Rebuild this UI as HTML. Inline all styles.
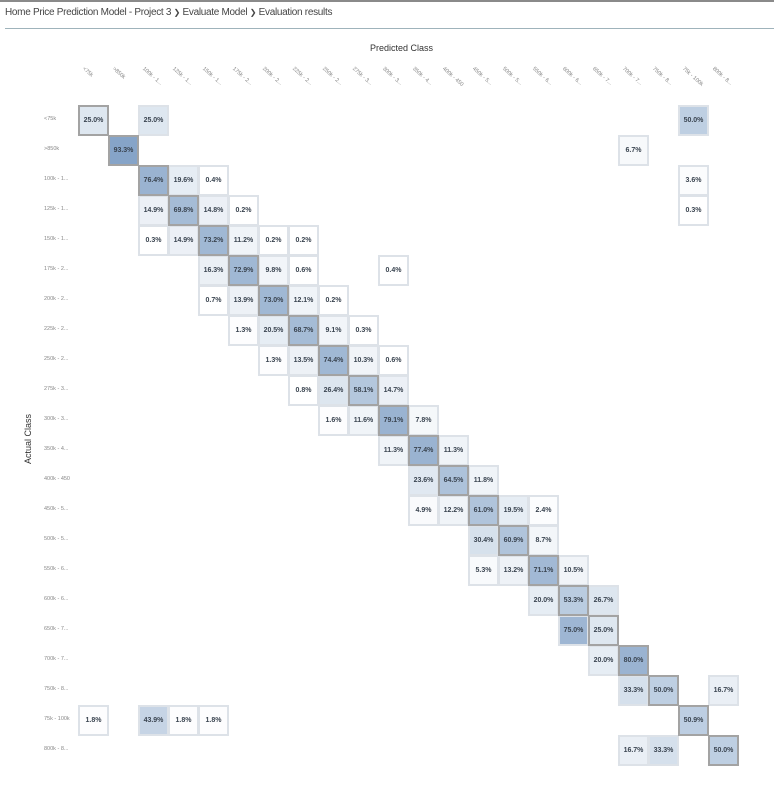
<!DOCTYPE html>
<html><head><meta charset="utf-8"><style>
*{margin:0;padding:0;box-sizing:border-box}
body{width:774px;height:791px;background:#fff;position:relative;overflow:hidden;font-family:"Liberation Sans",sans-serif}
.top{position:absolute;left:0;top:0;width:774px;height:2px;background:#8a8a8a}
.crumb{position:absolute;left:5px;top:7px;font-size:10px;color:#444;letter-spacing:-0.3px}
.hr{position:absolute;left:5px;top:28px;width:769px;height:1px;background:#9fb3bb}
.pc{position:absolute;left:370px;top:43px;font-size:9px;color:#333}
.ac{position:absolute;left:-2px;top:434px;font-size:9px;color:#333;transform:rotate(-90deg);transform-origin:center;width:60px;text-align:center;white-space:nowrap}
.cl{position:absolute;top:66px;font-size:5.5px;color:#888;transform:rotate(42deg);transform-origin:0 0;white-space:nowrap}
.rl{position:absolute;left:44px;font-size:5.5px;color:#888;white-space:nowrap}
.c{position:absolute;width:31px;height:31px;border:2px solid #dde2e8;font-size:7px;font-weight:bold;color:#3a4450;text-align:center;line-height:27px}
.d{border-color:#a3a3a3;z-index:2}
</style></head><body>
<div class="top"></div>
<div class="crumb">Home Price Prediction Model - Project 3 <span style="font-size:8px">&#x276F;</span> Evaluate Model <span style="font-size:8px">&#x276F;</span> Evaluation results</div>
<div class="hr"></div>
<div class="pc">Predicted Class</div>
<div class="ac">Actual Class</div>

<div class="cl" style="left:85px">&lt;75k</div>
<div class="cl" style="left:115px">&gt;850k</div>
<div class="cl" style="left:145px">100k - 1...</div>
<div class="cl" style="left:175px">125k - 1...</div>
<div class="cl" style="left:205px">150k - 1...</div>
<div class="cl" style="left:235px">175k - 2...</div>
<div class="cl" style="left:265px">200k - 2...</div>
<div class="cl" style="left:295px">225k - 2...</div>
<div class="cl" style="left:325px">250k - 2...</div>
<div class="cl" style="left:355px">275k - 3...</div>
<div class="cl" style="left:385px">300k - 3...</div>
<div class="cl" style="left:415px">350k - 4...</div>
<div class="cl" style="left:445px">400k - 450</div>
<div class="cl" style="left:475px">450k - 5...</div>
<div class="cl" style="left:505px">500k - 5...</div>
<div class="cl" style="left:535px">550k - 6...</div>
<div class="cl" style="left:565px">600k - 6...</div>
<div class="cl" style="left:595px">650k - 7...</div>
<div class="cl" style="left:625px">700k - 7...</div>
<div class="cl" style="left:655px">750k - 8...</div>
<div class="cl" style="left:685px">75k - 100k</div>
<div class="cl" style="left:715px">800k - 8...</div>

<div class="rl" style="top:116px">&lt;75k</div>
<div class="rl" style="top:146px">&gt;850k</div>
<div class="rl" style="top:176px">100k - 1...</div>
<div class="rl" style="top:206px">125k - 1...</div>
<div class="rl" style="top:236px">150k - 1...</div>
<div class="rl" style="top:266px">175k - 2...</div>
<div class="rl" style="top:296px">200k - 2...</div>
<div class="rl" style="top:326px">225k - 2...</div>
<div class="rl" style="top:356px">250k - 2...</div>
<div class="rl" style="top:386px">275k - 3...</div>
<div class="rl" style="top:416px">300k - 3...</div>
<div class="rl" style="top:446px">350k - 4...</div>
<div class="rl" style="top:476px">400k - 450</div>
<div class="rl" style="top:506px">450k - 5...</div>
<div class="rl" style="top:536px">500k - 5...</div>
<div class="rl" style="top:566px">550k - 6...</div>
<div class="rl" style="top:596px">600k - 6...</div>
<div class="rl" style="top:626px">650k - 7...</div>
<div class="rl" style="top:656px">700k - 7...</div>
<div class="rl" style="top:686px">750k - 8...</div>
<div class="rl" style="top:716px">75k - 100k</div>
<div class="rl" style="top:746px">800k - 8...</div>

<div class="c d" style="left:78px;top:105px;background:#dee7f0">25.0%</div>
<div class="c" style="left:138px;top:105px;background:#dee7f0">25.0%</div>
<div class="c" style="left:678px;top:105px;background:#becfe2">50.0%</div>
<div class="c d" style="left:108px;top:135px;background:#86a4c8">93.3%</div>
<div class="c" style="left:618px;top:135px;background:#f7f9fb">6.7%</div>
<div class="c d" style="left:138px;top:165px;background:#9ab3d1">76.4%</div>
<div class="c" style="left:168px;top:165px;background:#e6edf4">19.6%</div>
<div class="c" style="left:198px;top:165px;background:#fff">0.4%</div>
<div class="c" style="left:678px;top:165px;background:#fbfcfd">3.6%</div>
<div class="c" style="left:138px;top:195px;background:#ecf0f6">14.9%</div>
<div class="c d" style="left:168px;top:195px;background:#a5bcd6">69.8%</div>
<div class="c" style="left:198px;top:195px;background:#ecf0f6">14.8%</div>
<div class="c" style="left:228px;top:195px;background:#fff">0.2%</div>
<div class="c" style="left:678px;top:195px;background:#fff">0.3%</div>
<div class="c" style="left:138px;top:225px;background:#fff">0.3%</div>
<div class="c" style="left:168px;top:225px;background:#ecf0f6">14.9%</div>
<div class="c d" style="left:198px;top:225px;background:#a0b8d4">73.2%</div>
<div class="c" style="left:228px;top:225px;background:#f0f4f8">11.2%</div>
<div class="c" style="left:258px;top:225px;background:#fff">0.2%</div>
<div class="c" style="left:288px;top:225px;background:#fff">0.2%</div>
<div class="c" style="left:198px;top:255px;background:#ebf0f5">16.3%</div>
<div class="c d" style="left:228px;top:255px;background:#a0b8d4">72.9%</div>
<div class="c" style="left:258px;top:255px;background:#f2f5f9">9.8%</div>
<div class="c" style="left:288px;top:255px;background:#fff">0.6%</div>
<div class="c" style="left:378px;top:255px;background:#fff">0.4%</div>
<div class="c" style="left:198px;top:285px;background:#fff">0.7%</div>
<div class="c" style="left:228px;top:285px;background:#edf1f6">13.9%</div>
<div class="c d" style="left:258px;top:285px;background:#a0b8d4">73.0%</div>
<div class="c" style="left:288px;top:285px;background:#f0f4f8">12.1%</div>
<div class="c" style="left:318px;top:285px;background:#fff">0.2%</div>
<div class="c" style="left:228px;top:315px;background:#fdfdfe">1.3%</div>
<div class="c" style="left:258px;top:315px;background:#e6edf4">20.5%</div>
<div class="c d" style="left:288px;top:315px;background:#a5bcd6">68.7%</div>
<div class="c" style="left:318px;top:315px;background:#f2f5f9">9.1%</div>
<div class="c" style="left:348px;top:315px;background:#fff">0.3%</div>
<div class="c" style="left:258px;top:345px;background:#fdfdfe">1.3%</div>
<div class="c" style="left:288px;top:345px;background:#edf1f6">13.5%</div>
<div class="c d" style="left:318px;top:345px;background:#a0b8d4">74.4%</div>
<div class="c" style="left:348px;top:345px;background:#f1f4f8">10.3%</div>
<div class="c" style="left:378px;top:345px;background:#fff">0.6%</div>
<div class="c" style="left:288px;top:375px;background:#fff">0.8%</div>
<div class="c" style="left:318px;top:375px;background:#dde6ef">26.4%</div>
<div class="c d" style="left:348px;top:375px;background:#b4c7dd">58.1%</div>
<div class="c" style="left:378px;top:375px;background:#ecf0f6">14.7%</div>
<div class="c" style="left:318px;top:405px;background:#fdfdfe">1.6%</div>
<div class="c" style="left:348px;top:405px;background:#f0f4f8">11.6%</div>
<div class="c d" style="left:378px;top:405px;background:#9ab3d1">79.1%</div>
<div class="c" style="left:408px;top:405px;background:#f5f8fa">7.8%</div>
<div class="c" style="left:378px;top:435px;background:#f0f4f8">11.3%</div>
<div class="c d" style="left:408px;top:435px;background:#9ab3d1">77.4%</div>
<div class="c" style="left:438px;top:435px;background:#f0f4f8">11.3%</div>
<div class="c" style="left:408px;top:465px;background:#e0e8f1">23.6%</div>
<div class="c d" style="left:438px;top:465px;background:#adc2da">64.5%</div>
<div class="c" style="left:468px;top:465px;background:#f0f4f8">11.8%</div>
<div class="c" style="left:408px;top:495px;background:#f9fafc">4.9%</div>
<div class="c" style="left:438px;top:495px;background:#f0f4f8">12.2%</div>
<div class="c d" style="left:468px;top:495px;background:#b0c4db">61.0%</div>
<div class="c" style="left:498px;top:495px;background:#e6edf4">19.5%</div>
<div class="c" style="left:528px;top:495px;background:#fcfdfe">2.4%</div>
<div class="c" style="left:468px;top:525px;background:#d6e1ec">30.4%</div>
<div class="c d" style="left:498px;top:525px;background:#b0c4db">60.9%</div>
<div class="c" style="left:528px;top:525px;background:#f3f6f9">8.7%</div>
<div class="c" style="left:468px;top:555px;background:#f8fafc">5.3%</div>
<div class="c" style="left:498px;top:555px;background:#eef2f7">13.2%</div>
<div class="c d" style="left:528px;top:555px;background:#a2b9d5">71.1%</div>
<div class="c" style="left:558px;top:555px;background:#f1f4f8">10.5%</div>
<div class="c" style="left:528px;top:585px;background:#e6edf4">20.0%</div>
<div class="c d" style="left:558px;top:585px;background:#bacce0">53.3%</div>
<div class="c" style="left:588px;top:585px;background:#dde6ef">26.7%</div>
<div class="c" style="left:558px;top:615px;background:#9eb6d3">75.0%</div>
<div class="c d" style="left:588px;top:615px;background:#dee7f0">25.0%</div>
<div class="c" style="left:588px;top:645px;background:#e6edf4">20.0%</div>
<div class="c d" style="left:618px;top:645px;background:#9ab3d1">80.0%</div>
<div class="c" style="left:618px;top:675px;background:#d5e0ec">33.3%</div>
<div class="c d" style="left:648px;top:675px;background:#becfe2">50.0%</div>
<div class="c" style="left:708px;top:675px;background:#eaeff5">16.7%</div>
<div class="c" style="left:78px;top:705px;background:#fdfdfe">1.8%</div>
<div class="c" style="left:138px;top:705px;background:#c6d4e5">43.9%</div>
<div class="c" style="left:168px;top:705px;background:#fdfdfe">1.8%</div>
<div class="c" style="left:198px;top:705px;background:#fdfdfe">1.8%</div>
<div class="c d" style="left:678px;top:705px;background:#bdcee2">50.9%</div>
<div class="c" style="left:618px;top:735px;background:#eaeff5">16.7%</div>
<div class="c" style="left:648px;top:735px;background:#d5e0ec">33.3%</div>
<div class="c d" style="left:708px;top:735px;background:#becfe2">50.0%</div>
</body></html>
